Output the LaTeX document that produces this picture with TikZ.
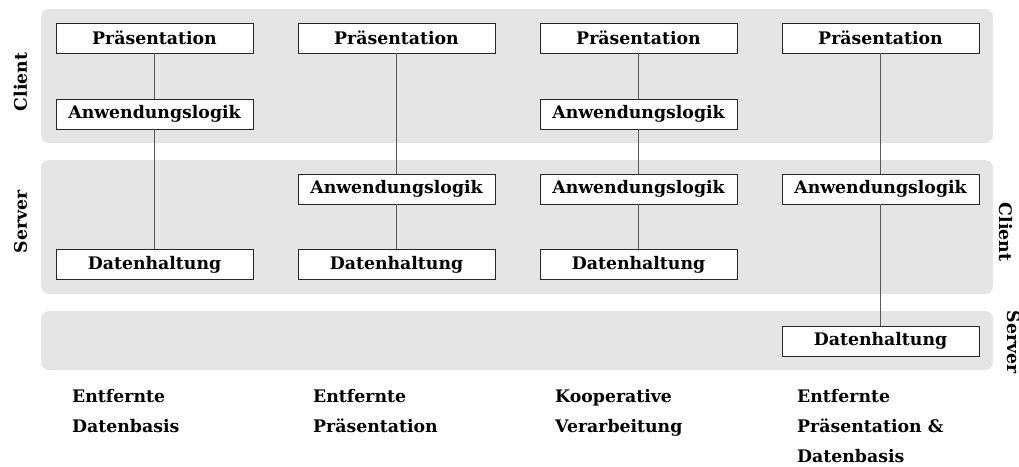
\documentclass[tikz,border=0pt]{standalone}
\usepackage{fontspec}
\setmainfont{DejaVu Serif}
\begin{document}
\begin{tikzpicture}[x=1pt,y=-1pt,
  panel/.style={fill=panelgray,draw=none,rounded corners=8pt},
  txt/.style={font=\fontsize{17.3}{20}\selectfont\bfseries},
  layer/.style={txt,draw=black!85,fill=white,line width=0.9pt,minimum width=197pt,minimum height=30pt,inner sep=0pt},
  link/.style={draw=black!65,line width=1.3pt},
  tier/.style={txt,inner sep=0pt,anchor=base},
  caption/.style={txt,inner sep=0pt,anchor=base west}]
\definecolor{panelgray}{RGB}{229,229,229}
\useasboundingbox (0,0) rectangle (1019,466);

% tier bands
\fill[panel] (41,9) rectangle (993,143);
\fill[panel] (41,160) rectangle (993,294);
\fill[panel] (41,311) rectangle (993,370);

% tier labels
\node[tier,rotate=90] (lc) at (27,82) {Client};
\node[tier,rotate=90] (ls) at (27,222) {Server};
\node[tier,rotate=-90] (rc) at (999,232) {Client};
\node[tier,rotate=-90] (rs) at (1007,342) {Server};

% column 1: remote database
\node[layer] (p1) at (154.5,38) {Präsentation};
\node[layer] (a1) at (154.5,114) {Anwendungslogik};
\node[layer] (d1) at (154.5,264.5) {Datenhaltung};
% column 2: remote presentation
\node[layer] (p2) at (396.5,38) {Präsentation};
\node[layer] (a2) at (396.5,189) {Anwendungslogik};
\node[layer] (d2) at (396.5,264.5) {Datenhaltung};
% column 3: cooperative processing
\node[layer] (p3) at (638.5,38) {Präsentation};
\node[layer] (a3c) at (638.5,114) {Anwendungslogik};
\node[layer] (a3s) at (638.5,189) {Anwendungslogik};
\node[layer] (d3) at (638.5,264.5) {Datenhaltung};
% column 4: remote presentation and database
\node[layer] (p4) at (880.5,38) {Präsentation};
\node[layer] (a4) at (880.5,189) {Anwendungslogik};
\node[layer] (d4) at (880.5,341) {Datenhaltung};

% connections
\draw[link] (p1) -- (a1);
\draw[link] (a1) -- (d1);
\draw[link] (p2) -- (a2);
\draw[link] (a2) -- (d2);
\draw[link] (p3) -- (a3c);
\draw[link] (a3c) -- (a3s);
\draw[link] (a3s) -- (d3);
\draw[link] (p4) -- (a4);
\draw[link] (a4) -- (d4);

% captions
\node[caption] (c1a) at (72,402) {Entfernte};
\node[caption] (c1b) at (72,432) {Datenbasis};
\node[caption] (c2a) at (313,402) {Entfernte};
\node[caption] (c2b) at (313,432) {Präsentation};
\node[caption] (c3a) at (555,402) {Kooperative};
\node[caption] (c3b) at (555,432) {Verarbeitung};
\node[caption] (c4a) at (797,402) {Entfernte};
\node[caption] (c4b) at (797,432) {Präsentation \&};
\node[caption] (c4c) at (797,462) {Datenbasis};
\end{tikzpicture}
\end{document}
